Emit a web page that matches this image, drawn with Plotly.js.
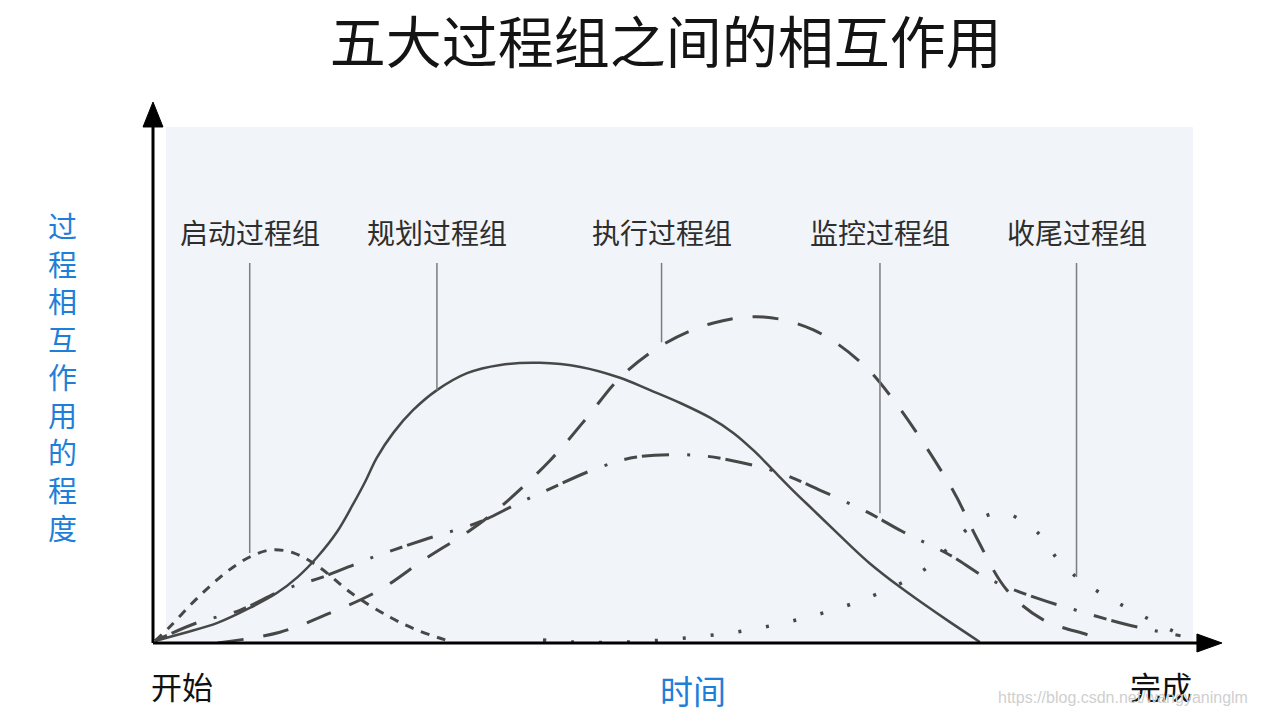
<!DOCTYPE html>
<html>
<head>
<meta charset="utf-8">
<script src="https://cdn.plot.ly/plotly-3.0.1.min.js"></script>
<style>
  html, body { margin: 0; padding: 0; background: #fff; }
  #chart { width: 1261px; height: 717px; }
</style>
</head>
<body>
<div id="chart"></div>
<script>
// --- дані (час 0..100, ступінь 0..100) ---

const titleText = '五大过程组之间的相互作用';
const xAxisLabel = '时间';
const yAxisLabel = '过程相互作用的程度';
const startLabel = '开始';
const endLabel = '完成';
const watermark = 'https://blog.csdn.net/wangyaninglm';

const groupNames = ['启动过程组', '规划过程组', '执行过程组', '监控过程组', '收尾过程组'];
// leader lines: where they touch each curve
const leaderX = [9.3, 27.3, 48.9, 69.9, 88.8];
const leaderEndY = [17.5, 49.1, 58.4, 25.2, 12.8];

// 启动过程组
const initX = [0.2, 1.6, 3.6, 5.3, 7.2, 9.3, 11.4, 13.5, 15.8, 19.2, 22.8, 25.4, 28.1];
const initY = [0.4, 3.1, 7.4, 10.7, 14.0, 16.7, 18.1, 17.5, 15.0, 9.5, 5.0, 2.5, 0.6];

// 规划过程组
const planX = [0.2, 2.9, 6.2, 9.3, 11.9, 13.9, 15.8, 17.7, 19.2, 20.4, 21.5, 23.1, 25.0, 27.3, 30.2, 33.4, 37.2,
               41.1, 44.9, 47.8, 50.7, 53.6, 55.8, 57.9, 59.6, 61.5, 63.5, 65.4, 67.0, 68.9, 71.8, 73.8, 76.6, 79.5];
const planY = [0.4, 1.9, 3.9, 6.8, 9.7, 12.8, 16.7, 21.6, 26.8, 31.3, 35.9, 40.8, 45.2, 49.1, 52.4, 54.0, 54.4,
               53.6, 51.5, 49.1, 46.6, 43.7, 40.8, 37.1, 33.6, 29.7, 25.8, 22.1, 19.0, 15.5, 10.9, 8.0, 4.1, 0.2];

// 执行过程组
const execX = [6.2, 12.2, 17.0, 21.8, 26.0, 30.5, 33.4, 38.2, 41.7, 44.9, 49.0, 53.8, 58.7, 63.5, 68.0, 71.2, 76.9, 79.2, 82.1, 85.6, 90.4, 91.5];
const execY = [0.0, 2.1, 5.8, 10.3, 16.1, 21.9, 26.4, 35.5, 43.7, 51.5, 57.9, 62.1, 63.3, 60.8, 54.6, 47.2, 29.7, 20.4, 10.3, 4.5, 1.2, 0.0];

// 监控过程组
const monX = [0.2, 4.2, 8.4, 12.5, 16.3, 21.2, 26.0, 31.4, 34.6, 37.9, 42.8, 46.5, 51.9, 55.5, 60.3, 64.1, 68.7, 72.1, 76.6, 80.2, 85.0, 88.7, 93.8, 98.8];
const monY = [0.4, 3.9, 6.4, 10.3, 12.8, 16.7, 20.0, 23.5, 26.6, 29.7, 34.0, 36.1, 36.5, 35.5, 33.0, 29.7, 25.4, 21.6, 17.1, 12.6, 8.7, 6.4, 3.5, 1.4];

// 收尾过程组
const closeX = [37.5, 40.4, 45.9, 51.3, 56.6, 61.9, 67.2, 72.3, 74.4, 76.3, 78.4, 80.5, 82.4, 85.3, 86.9, 88.8, 91.1, 93.5, 95.9, 98.3];
const closeY = [0.6, 0.2, 0.2, 1.0, 2.3, 4.5, 7.6, 12.0, 14.6, 18.1, 22.3, 25.0, 24.9, 21.0, 16.5, 12.8, 9.7, 7.0, 4.5, 2.1];

const labelY = 79.8;
const leaderTopY = 73.8;

const CJK = '"Noto Sans CJK SC", "Noto Sans", sans-serif';
const curveColor = '#474747';
const blue = '#1f7fd8';

function curve(x, y, dash, width) {
    return {
        x: x, y: y, type: 'scatter', mode: 'lines',
        line: { color: curveColor, width: width, dash: dash, shape: 'spline', smoothing: 1 },
        hoverinfo: 'none', showlegend: false
    };
}

const data = [
    curve(initX, initY, '9px,8px', 3),
    curve(planX, planY, 'solid', 2.5),
    curve(execX, execY, '26px,20px', 3),
    curve(monX, monY, '13px,5px,27px,18px,3px,18px', 3),
    curve(closeX, closeY, '3px,25px', 3.5)
];

// leader lines
leaderX.forEach((lx, i) => {
    data.push({
        x: [lx, lx], y: [leaderTopY, leaderEndY[i]], type: 'scatter', mode: 'lines',
        line: { color: '#7d7d7d', width: 1.5 }, hoverinfo: 'none', showlegend: false
    });
});

const annotations = groupNames.map((name, i) => ({
    x: leaderX[i], y: labelY, xref: 'x', yref: 'y', text: name, showarrow: false,
    xanchor: 'center', yanchor: 'middle',
    font: { family: CJK, size: 28, color: '#2e2e2e' }
}));

// vertical y title, one character per line
annotations.push({
    x: -0.0875, y: (643 - 376) / 515, xref: 'paper', yref: 'paper',
    text: yAxisLabel.split('').join('<br>'), showarrow: false,
    xanchor: 'center', yanchor: 'middle', align: 'center',
    font: { family: CJK, size: 29, color: blue }
});

annotations.push(
    { x: 0.0279, y: -0.0816, xref: 'paper', yref: 'paper', text: startLabel, showarrow: false,
      xanchor: 'center', yanchor: 'middle', font: { family: CJK, size: 31, color: '#111' } },
    { x: 0.969, y: -0.0816, xref: 'paper', yref: 'paper', text: endLabel, showarrow: false,
      xanchor: 'center', yanchor: 'middle', font: { family: CJK, size: 31, color: '#111' } },
    { x: 0.519, y: -0.0913, xref: 'paper', yref: 'paper', text: xAxisLabel, showarrow: false,
      xanchor: 'center', yanchor: 'middle', font: { family: CJK, size: 33, color: blue } },
    { x: 1.0548, y: -0.1049, xref: 'paper', yref: 'paper', text: watermark, showarrow: false,
      xanchor: 'right', yanchor: 'middle', font: { family: 'Liberation Sans, Arial, sans-serif', size: 16, color: '#cfcfcf' } }
);

const shapes = [
    // light background panel
    { type: 'rect', xref: 'paper', yref: 'paper', x0: 0.0125, x1: 1, y0: 0, y1: 1.002,
      fillcolor: '#f1f4f8', line: { width: 0 }, layer: 'below' },
    // x axis with arrow
    { type: 'line', xref: 'paper', yref: 'paper', x0: 0, x1: 1.006, y0: 0, y1: 0,
      line: { color: '#000', width: 3 } },
    { type: 'path', xref: 'paper', yref: 'paper', path: 'M 1.0038 0.0175 L 1.0279 0 L 1.0038 -0.0175 Z',
      fillcolor: '#000', line: { color: '#000', width: 1 } },
    // y axis with arrow
    { type: 'line', xref: 'paper', yref: 'paper', x0: 0, x1: 0, y0: 0, y1: 1.005,
      line: { color: '#000', width: 3 } },
    { type: 'path', xref: 'paper', yref: 'paper', path: 'M -0.0096 1.002 L 0 1.0505 L 0.0096 1.002 Z',
      fillcolor: '#000', line: { color: '#000', width: 1 } }
];

const layout = {
    width: 1261, height: 717,
    margin: { l: 153, r: 68, t: 128, b: 74 },
    paper_bgcolor: '#ffffff', plot_bgcolor: 'rgba(0,0,0,0)',
    title: {
        text: titleText, x: 0.528, y: 0.94, xref: 'container', yref: 'container',
        xanchor: 'center', yanchor: 'middle',
        font: { family: CJK, size: 56, color: '#141414' }
    },
    xaxis: { range: [0, 100], showgrid: false, zeroline: false, showline: false, showticklabels: false, fixedrange: true },
    yaxis: { range: [0, 100], showgrid: false, zeroline: false, showline: false, showticklabels: false, fixedrange: true },
    showlegend: false,
    hovermode: false,
    annotations: annotations,
    shapes: shapes
};

Plotly.newPlot('chart', data, layout, { staticPlot: true, displayModeBar: false });
</script>
</body>
</html>
